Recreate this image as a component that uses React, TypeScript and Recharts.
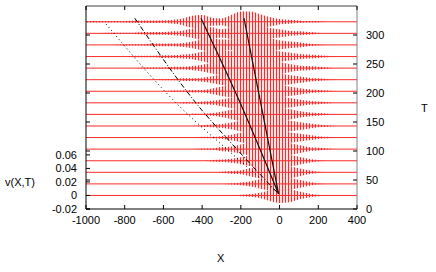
import { ComposedChart, Area, Line, XAxis, YAxis, ReferenceLine } from 'recharts';

const xGrid = [
  -1000, -950, -900, -850, -800, -750, -700, -650, -600, -550, -500, -450, -400, -350, -300,
  -250, -200, -150, -100, -50, 0, 50, 100, 150, 200, 250, 300, 350, 400,
];

// vertical offset of each trace (v units), bottom trace first
const rowOffsets = [
  0, 0.0171, 0.0342, 0.0513, 0.0685, 0.0856, 0.1027, 0.1198, 0.1369, 0.154, 0.1711, 0.1882,
  0.2053, 0.2225, 0.2396, 0.2567,
];

// oscillation envelope of each trace, in units of 0.001, on xGrid
const envelopes = [
  [0, 0, 0, 0, 0, 0, 0, 0, 0, 0, 0, 0, 0, 0, 0, 0, 1, 2, 4, 8, 11, 10, 6, 3, 1, 0, 0, 0, 0],
  [0, 0, 0, 0, 0, 0, 0, 0, 0, 0, 0, 0, 0, 0, 0, 1, 2, 4, 7, 10, 11, 9, 6, 3, 1, 0, 0, 0, 0],
  [0, 0, 0, 0, 0, 0, 0, 0, 0, 0, 0, 0, 0, 0, 1, 2, 3, 6, 9, 11, 11, 9, 6, 3, 1, 0, 0, 0, 0],
  [0, 0, 0, 0, 0, 0, 0, 0, 0, 0, 0, 0, 0, 1, 2, 3, 5, 8, 11, 12, 11, 9, 6, 3, 1, 0, 0, 0, 0],
  [0, 0, 0, 0, 0, 0, 0, 0, 0, 0, 0, 0, 1, 1, 3, 4, 7, 10, 12, 12, 11, 9, 6, 3, 2, 1, 0, 0, 0],
  [0, 0, 0, 0, 0, 0, 0, 0, 0, 0, 0, 0, 1, 1, 2, 4, 7, 10, 12, 12, 10, 8, 6, 4, 2, 1, 0, 0, 0],
  [0, 0, 0, 0, 0, 0, 0, 0, 0, 0, 0, 0, 1, 2, 3, 5, 8, 11, 13, 12, 10, 8, 6, 4, 2, 1, 0, 0, 0],
  [0, 0, 0, 0, 0, 0, 0, 0, 0, 0, 0, 1, 1, 2, 4, 7, 10, 12, 13, 12, 10, 8, 5, 3, 2, 1, 0, 0, 0],
  [0, 0, 0, 0, 0, 0, 0, 0, 0, 0, 1, 1, 2, 3, 5, 8, 10, 12, 13, 12, 10, 7, 5, 3, 2, 1, 0, 0, 0],
  [0, 0, 0, 0, 0, 0, 0, 0, 0, 1, 1, 2, 2, 4, 7, 9, 10, 13, 14, 12, 10, 7, 5, 3, 2, 1, 0, 0, 0],
  [0, 0, 0, 0, 0, 0, 0, 0, 1, 1, 2, 2, 3, 5, 8, 10, 11, 14, 14, 12, 9, 7, 5, 3, 2, 1, 0, 0, 0],
  [0, 0, 0, 0, 0, 0, 1, 1, 1, 2, 2, 3, 5, 8, 10, 9, 12, 15, 14, 11, 9, 6, 4, 3, 2, 1, 0, 0, 0],
  [0, 0, 0, 0, 0, 1, 1, 1, 2, 2, 3, 4, 7, 10, 10, 8, 13, 15, 13, 10, 8, 6, 4, 3, 2, 1, 0, 0, 0],
  [0, 0, 0, 0, 1, 1, 1, 2, 2, 2, 3, 5, 8, 10, 8, 8, 13, 15, 13, 10, 7, 5, 4, 2, 1, 0, 0, 0, 0],
  [0, 0, 1, 1, 1, 1, 2, 2, 2, 3, 4, 7, 10, 9, 6, 9, 14, 15, 12, 8, 6, 4, 3, 2, 1, 0, 0, 0, 0],
  [1, 1, 1, 1, 1, 2, 2, 2, 2, 3, 5, 9, 10, 6, 5, 10, 15, 15, 11, 7, 4, 3, 2, 1, 1, 0, 0, 0, 0],
];

// trajectories drawn in black, X against T (listed left to right)
const mainPath = [{ x: -184, t: 329 }, { x: -5, t: 26 }];
const secondPath = [{ x: -406, t: 329 }, { x: -206, t: 185 }, { x: -5, t: 26 }];
const dashDotPath = [{ x: -748, t: 329 }, { x: -430, t: 182 }, { x: -215, t: 101 }, { x: -5, t: 26 }];
const dottedPath = [{ x: -897, t: 319 }, { x: -520, t: 178 }, { x: -265, t: 101 }, { x: -5, t: 26 }];

const xTicks = [-1000, -800, -600, -400, -200, 0, 200, 400];
const vTicks = [-0.02, 0, 0.02, 0.04, 0.06];
const tTicks = [0, 50, 100, 150, 200, 250, 300];

const PL = 86;
const PR = 357;
const PT = 6;
const PB = 209;
const font = '"Liberation Sans", Arial, Helvetica, sans-serif';

const traces = envelopes.map((env, k) =>
  xGrid.map((x, i) => ({
    x,
    band: [rowOffsets[k] - env[i] * 0.001, rowOffsets[k] + env[i] * 0.001],
  }))
);

const VTick = ({ y, payload }: any) => (
  <g>
    <line x1={PL} x2={PL + 4} y1={y} y2={y} stroke='#000' />
    <text x={PL - 9} y={y} dy='0.36em' textAnchor='end' fontSize={11} fontFamily={font} fill='#000'>
      {payload.value}
    </text>
  </g>
);

const TTick = ({ y, payload }: any) => (
  <g>
    <line x1={PR - 4} x2={PR} y1={y} y2={y} stroke='#000' />
    <line x1={PL} x2={PL + 4} y1={y} y2={y} stroke='#000' />
    <text x={PR + 9} y={y} dy='0.36em' textAnchor='start' fontSize={11} fontFamily={font} fill='#000'>
      {payload.value}
    </text>
  </g>
);

const XTick = ({ x, payload }: any) => (
  <g>
    <line x1={x} x2={x} y1={PB - 4} y2={PB} stroke='#000' />
    <line x1={x} x2={x} y1={PT} y2={PT + 4} stroke='#000' />
    <text x={x} y={PB + 7} dy='0.71em' textAnchor='middle' fontSize={11} fontFamily={font} fill='#000'>
      {payload.value}
    </text>
  </g>
);

const labelStyle: React.CSSProperties = {
  position: 'absolute',
  fontFamily: font,
  fontSize: 11,
  lineHeight: '12px',
  color: '#000',
};

export default function App() {
  return (
    <div style={{ position: 'relative', width: 436, height: 272, background: '#fff' }}>
      <style>{'body{margin:0}'}</style>
      <svg width={0} height={0} style={{ position: 'absolute' }}>
        <defs>
          <pattern id='osc' width='3' height='6' patternUnits='userSpaceOnUse'>
            <rect width='3' height='6' fill='#ffe2e2' />
            <rect width='1' height='6' fill='#ff2a2a' />
          </pattern>
        </defs>
      </svg>
      <ComposedChart width={436} height={272} margin={{ top: PT, right: 0, bottom: 0, left: 0 }}>
        <XAxis
          type='number'
          dataKey='x'
          domain={[-1000, 400]}
          ticks={xTicks}
          interval={0}
          height={63}
          tickSize={0}
          tickLine={false}
          tick={XTick}
          axisLine={{ stroke: '#000' }}
          allowDataOverflow
        />
        <YAxis
          yAxisId='v'
          type='number'
          domain={[-0.02, 0.28]}
          ticks={vTicks}
          interval={0}
          width={86}
          tickSize={0}
          tickLine={false}
          tick={VTick}
          axisLine={{ stroke: '#000' }}
          allowDataOverflow
        />
        <YAxis
          yAxisId='t'
          orientation='right'
          type='number'
          domain={[0, 350]}
          ticks={tTicks}
          interval={0}
          width={79}
          tickSize={0}
          tickLine={false}
          tick={TTick}
          axisLine={{ stroke: '#808080' }}
          allowDataOverflow
        />
        <ReferenceLine yAxisId='v' y={0.28} stroke='#808080' strokeWidth={1.5} />
        {rowOffsets.map((off, k) => (
          <ReferenceLine key={'b' + k} yAxisId='v' y={off} stroke='#ff2a2a' />
        ))}
        {traces.map((d, k) => (
          <Area
            key={'a' + k}
            yAxisId='v'
            data={d}
            dataKey='band'
            type='monotone'
            fill='url(#osc)'
            fillOpacity={1}
            stroke='none'
            isAnimationActive={false}
          />
        ))}
        <Line yAxisId='t' data={mainPath} dataKey='t' stroke='#111' strokeWidth={1.2} dot={false} isAnimationActive={false} />
        <Line yAxisId='t' data={secondPath} dataKey='t' type='monotone' stroke='#111' strokeWidth={1.2} dot={false} isAnimationActive={false} />
        <Line yAxisId='t' data={dashDotPath} dataKey='t' type='monotone' stroke='#000' strokeWidth={1} strokeDasharray='5 2 1 2' dot={false} isAnimationActive={false} />
        <Line yAxisId='t' data={dottedPath} dataKey='t' type='monotone' stroke='#000' strokeWidth={1} strokeDasharray='1 3' dot={false} isAnimationActive={false} />
      </ComposedChart>
      <span style={{ ...labelStyle, left: 5, top: 176 }}>v(X,T)</span>
      <span style={{ ...labelStyle, left: 421, top: 102 }}>T</span>
      <span style={{ ...labelStyle, left: 217, top: 252 }}>X</span>
    </div>
  );
}
